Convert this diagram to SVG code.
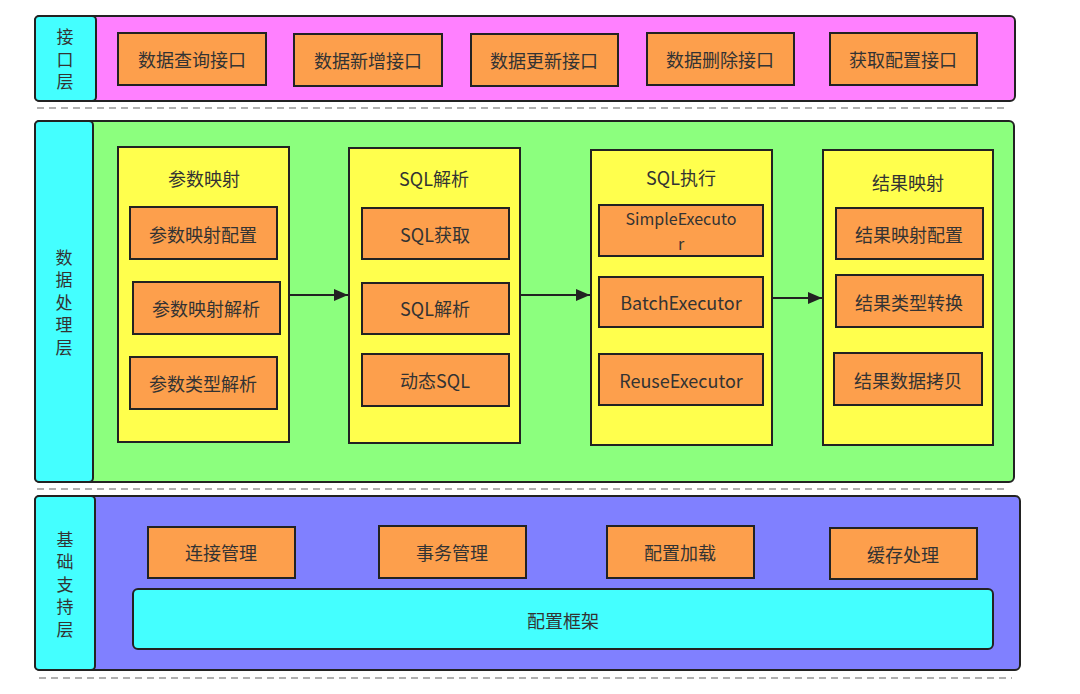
<svg xmlns="http://www.w3.org/2000/svg" width="1080" height="694" viewBox="0 0 1080 694">
<defs>
<marker id="ah" viewBox="0 0 14 12" refX="14" refY="6" markerWidth="14" markerHeight="12" markerUnits="userSpaceOnUse" orient="auto">
<path d="M0,0 L14,6 L0,12 z" fill="#222"/>
</marker>
<style>
text{font-family:"Noto Sans CJK SC","Noto Sans",sans-serif;font-size:18px;fill:#333;text-anchor:middle;dominant-baseline:central}
.vt{writing-mode:vertical-rl;letter-spacing:5.5px;font-size:17px}
.outer{stroke:#222;stroke-width:2}
.lab{fill:#44ffff;stroke:#222;stroke-width:2}
.box{fill:#fd9f4c;stroke:#222;stroke-width:2}
.ybox{fill:#ffff4d;stroke:#222;stroke-width:2}
.dash{stroke:#b0b0b0;stroke-width:2;stroke-dasharray:7,5;fill:none}
.conn{stroke:#222;stroke-width:2;fill:none;marker-end:url(#ah)}
</style>
</defs>
<rect width="1080" height="694" fill="#fff"/>

<g id="layer-interface">
<rect class="outer" x="35" y="16" width="980" height="85" rx="5" fill="#ff80ff"/>
<rect class="lab" x="35" y="16" width="61" height="85" rx="4"/>
<text class="vt" x="65" y="62">接口层</text>
</g>
<g id="n-query"><rect class="box" x="118" y="33" width="148" height="52"/><text x="192" y="59">数据查询接口</text></g>
<g id="n-add"><rect class="box" x="294" y="34" width="148" height="52"/><text x="368" y="60">数据新增接口</text></g>
<g id="n-update"><rect class="box" x="471" y="34" width="147" height="52"/><text x="544" y="60">数据更新接口</text></g>
<g id="n-delete"><rect class="box" x="647" y="33" width="147" height="52"/><text x="720" y="59">数据删除接口</text></g>
<g id="n-config"><rect class="box" x="830" y="33" width="147" height="52"/><text x="903" y="59">获取配置接口</text></g>

<line class="dash" x1="37" y1="108" x2="1007" y2="108"/>

<g id="layer-data">
<rect class="outer" x="35" y="121" width="979" height="361" rx="5" fill="#8cff7e"/>
<rect class="lab" x="35" y="121" width="58" height="361" rx="4"/>
<text class="vt" x="64" y="305">数据处理层</text>
</g>

<g id="g-param">
<rect class="ybox" x="118" y="147" width="171" height="295"/>
<text x="204" y="178">参数映射</text>
</g>
<g id="n-param-cfg"><rect class="box" x="130" y="207" width="147" height="52"/><text x="203" y="234">参数映射配置</text></g>
<g id="n-param-parse"><rect class="box" x="133" y="282" width="147" height="52"/><text x="206" y="308">参数映射解析</text></g>
<g id="n-param-type"><rect class="box" x="130" y="357" width="147" height="52"/><text x="203" y="383">参数类型解析</text></g>

<g id="g-sqlparse">
<rect class="ybox" x="349" y="148" width="171" height="295"/>
<text x="434" y="178">SQL解析</text>
</g>
<g id="n-sql-get"><rect class="box" x="362" y="208" width="147" height="51"/><text x="435" y="234">SQL获取</text></g>
<g id="n-sql-parse"><rect class="box" x="362" y="283" width="147" height="51"/><text x="435" y="308">SQL解析</text></g>
<g id="n-sql-dyn"><rect class="box" x="362" y="354" width="147" height="52"/><text x="435" y="380">动态SQL</text></g>

<g id="g-sqlexec">
<rect class="ybox" x="591" y="150" width="181" height="295"/>
<text x="681" y="177">SQL执行</text>
</g>
<g id="n-simple"><rect class="box" x="599" y="205" width="164" height="51"/><text x="681" y="218" style="font-size:16px"><tspan x="681" y="218">SimpleExecuto</tspan><tspan x="681" y="243">r</tspan></text></g>
<g id="n-batch"><rect class="box" x="599" y="277" width="164" height="50"/><text x="681" y="302">BatchExecutor</text></g>
<g id="n-reuse"><rect class="box" x="599" y="354" width="164" height="51"/><text x="681" y="380">ReuseExecutor</text></g>

<g id="g-result">
<rect class="ybox" x="823" y="150" width="170" height="295"/>
<text x="908" y="182">结果映射</text>
</g>
<g id="n-res-cfg"><rect class="box" x="836" y="208" width="147" height="51"/><text x="909" y="234">结果映射配置</text></g>
<g id="n-res-type"><rect class="box" x="836" y="275" width="147" height="52"/><text x="909" y="302">结果类型转换</text></g>
<g id="n-res-copy"><rect class="box" x="834" y="353" width="148" height="52"/><text x="908" y="380">结果数据拷贝</text></g>

<g id="connectors">
<line class="conn" x1="289" y1="295" x2="348" y2="295"/>
<line class="conn" x1="520" y1="295" x2="590" y2="295"/>
<line class="conn" x1="772" y1="298" x2="822" y2="298"/>
</g>

<line class="dash" x1="37" y1="489" x2="1007" y2="489"/>

<g id="layer-base">
<rect class="outer" x="35" y="496" width="985" height="174" rx="5" fill="#8080ff"/>
<rect class="lab" x="35" y="496" width="60" height="174" rx="4"/>
<text class="vt" x="65" y="587">基础支持层</text>
</g>
<g id="n-conn"><rect class="box" x="148" y="527" width="147" height="51"/><text x="221" y="552">连接管理</text></g>
<g id="n-tx"><rect class="box" x="379" y="526" width="147" height="52"/><text x="452" y="552">事务管理</text></g>
<g id="n-load"><rect class="box" x="607" y="526" width="147" height="52"/><text x="680" y="552">配置加载</text></g>
<g id="n-cache"><rect class="box" x="830" y="528" width="147" height="51"/><text x="903" y="554">缓存处理</text></g>
<g id="n-framework"><rect x="133" y="589" width="860" height="60" rx="5" fill="#44ffff" stroke="#222" stroke-width="2"/><text x="563" y="620">配置框架</text></g>

<line class="dash" x1="39" y1="678" x2="1012" y2="678"/>
</svg>
